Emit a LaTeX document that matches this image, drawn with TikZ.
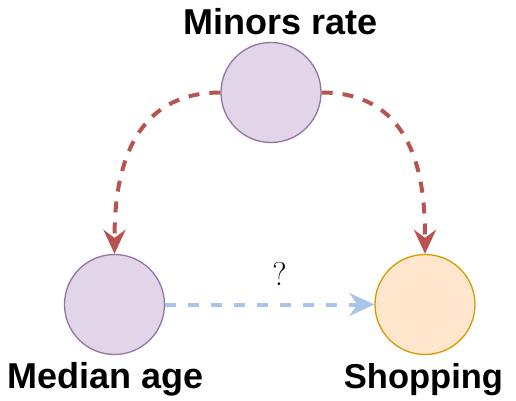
\documentclass[tikz,border=0pt]{standalone}
\usepackage{fontspec}
\setsansfont{Liberation Sans}
\usetikzlibrary{arrows.meta}
\definecolor{pfill}{HTML}{E1D5E7}
\definecolor{pdraw}{HTML}{9673A6}
\definecolor{ofill}{HTML}{FFE6CC}
\definecolor{odraw}{HTML}{D79B00}
\definecolor{redarr}{HTML}{B85450}
\definecolor{bluearr}{HTML}{A9C4EB}
\tikzset{
  var/.style={circle, minimum size=100pt, inner sep=0pt, line width=1.3pt},
  purplevar/.style={var, fill=pfill, draw=pdraw},
  orangevar/.style={var, fill=ofill, draw=odraw},
  lab/.style={font=\sffamily\bfseries\fontsize{36}{38}\selectfont, anchor=base, inner sep=0pt},
  redlink/.style={draw=redarr, line width=4pt, dash pattern=on 11pt off 10pt,
    -{Stealth[length=24pt, width=22pt, inset=8pt]}},
  bluelink/.style={draw=bluearr, line width=4pt, dash pattern=on 11pt off 12pt,
    -{Stealth[length=25pt, width=23pt, inset=8pt]}},
}
\begin{document}
\begin{tikzpicture}[x=1pt, y=1pt]
\useasboundingbox (0,0) rectangle (516,400);
\node[purplevar] (top) at (271,307.5) {};
\node[purplevar] (med) at (114.5,95.5) {};
\node[orangevar] (shop) at (425,95.5) {};
\node[lab] (ltop) at (280.5,366) {Minors rate};
\node[lab] (lmed) at (105.5,12) {Median age};
\node[lab, font=\sffamily\bfseries\fontsize{34.5}{36}\selectfont] (lshop) at (423.5,12) {Shopping};
\draw[redlink] (top.west) .. controls +(-100,0) and +(0,60) .. (med.north);
\draw[redlink] (top.east) .. controls +(100,0) and +(0,60) .. (shop.north);
\draw[bluelink] (med.east) -- (shop.west);
\node[font=\fontsize{33}{35}\selectfont, anchor=base, inner sep=0pt] (q) at (279.5,115) {?};
\end{tikzpicture}
\end{document}
